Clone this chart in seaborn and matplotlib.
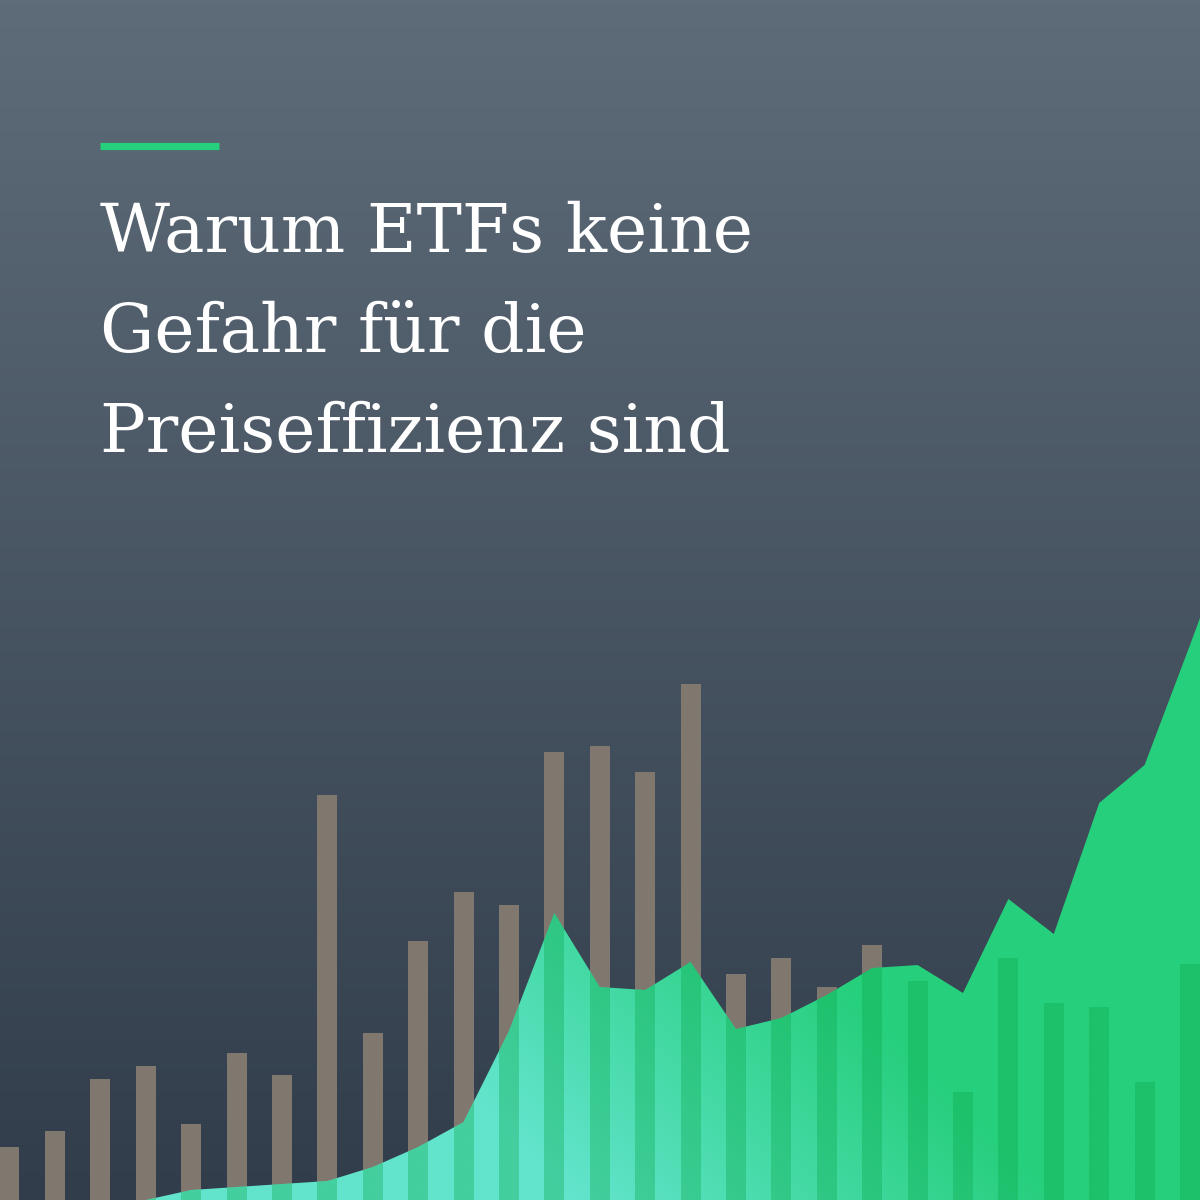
import numpy as np
import pandas as pd
import matplotlib
matplotlib.use("Agg")
import matplotlib.pyplot as plt
import seaborn as sns
from matplotlib.colors import to_rgb

# data
bar_pos = list(range(27))
bar_vals = [53, 69, 121, 134, 76, 147, 125, 405, 167, 259, 308, 295, 448, 454,
            428, 516, 226, 242, 213, 255, 219, 108, 242, 197, 193, 118, 236]
area_pos = list(range(3, 28))
area_vals = [0, 10, 13, 16, 19, 33, 53, 78, 169, 287, 213, 210, 238, 171, 182,
             205, 232, 235, 207, 301, 266, 397, 435, 555, 678]
title_lines = ["Warum ETFs keine", "Gefahr für die", "Preiseffizienz sind"]

bg_top = "#5e6b78"
bg_bottom = "#313d4a"
bar_color = "#80776f"
cyan = "#62e4cc"
green = "#26cf7c"

sns.set_theme(style="white")
fig = plt.figure(figsize=(12, 12), dpi=100)

# background gradient
bg = fig.add_axes([0, 0, 1, 1])
bg.axis("off")
t = np.linspace(0, 1, 256)[:, None]
c0, c1 = np.array(to_rgb(bg_top)), np.array(to_rgb(bg_bottom))
grad = c0[None, None, :] * (1 - t[..., None]) + c1[None, None, :] * t[..., None]
bg.imshow(grad, aspect="auto", extent=(0, 1, 0, 1))
bg.set_xlim(0, 1)
bg.set_ylim(0, 1)

# chart
ax = fig.add_axes([0, 0, 1, 1])
ax.patch.set_alpha(0)
xmin, xmax = -0.209, 26.22
df = pd.DataFrame({"x": bar_pos, "y": bar_vals})
sns.barplot(data=df, x="x", y="y", native_scale=True, width=0.44, color=bar_color,
            saturation=1, linewidth=0, ax=ax)

area = ax.fill_between(area_pos, 0, area_vals, color="none", linewidth=0)
clip = area.get_paths()[0]

# diagonal gradient for the area
nx, ny = 400, 400
gx = np.linspace(0, 1200, nx)
gy = np.linspace(0, 1200, ny)  # height from bottom in px
X, Y = np.meshgrid(gx, gy)
tt = np.clip(((X - 580) + Y * 1.0) / 480, 0, 1)[..., None]
ca, cb = np.array(to_rgb(cyan)), np.array(to_rgb(green))
img = ca * (1 - tt) + cb * tt
im = ax.imshow(img, origin="lower", aspect="auto", extent=(xmin, xmax, 0, 1200), zorder=3)
im.set_clip_path(clip, transform=ax.transData)

# darker bars inside the area
n0 = len(ax.patches)
sns.barplot(data=df, x="x", y="y", native_scale=True, width=0.44, color="#0aa84a",
            saturation=1, linewidth=0, alpha=0.35, ax=ax)
for p in ax.patches[n0:]:
    p.set_zorder(4)
    p.set_clip_path(clip, transform=ax.transData)

ax.set_xlim(xmin, xmax)
ax.set_ylim(0, 1200)
ax.axis("off")

# title block
fig.add_artist(plt.Line2D([100 / 1200, 219 / 1200], [1 - 145.5 / 1200] * 2,
                          color=green, linewidth=5.2, solid_capstyle="butt"))
for i, line in enumerate(title_lines):
    fig.text(100 / 1200, 1 - (252 + 100 * i) / 1200, line, color="white",
             fontsize=49, family=["DejaVu Serif"], va="baseline", ha="left")

fig.savefig("out.png", dpi=100)
